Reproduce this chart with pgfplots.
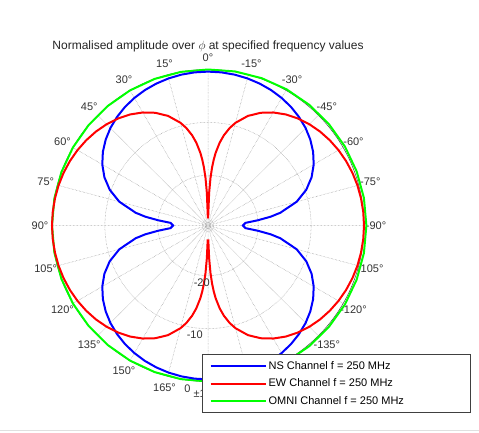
\documentclass[border=0pt]{standalone}
\usepackage{fontspec}
\setmainfont{Liberation Sans}
\usepackage{pgfplots}
\pgfplotsset{compat=1.18}
\usepgfplotslibrary{polar}
\usepackage{pgfplotstable}
\usetikzlibrary{calc}

\definecolor{nsblue}{RGB}{0,0,255}
\definecolor{ewred}{RGB}{255,0,0}
\definecolor{omnigreen}{RGB}{0,255,0}

% NS channel: phi (deg), normalised amplitude (dB)
\pgfplotstableread{
phi dB
0 -0.40
5 -0.43
10 -0.53
15 -0.70
20 -0.94
25 -1.25
30 -1.65
35 -2.13
40 -2.72
45 -3.41
50 -4.24
55 -5.23
60 -6.42
65 -7.88
70 -9.72
75 -12.14
80 -15.61
82 -17.53
84 -20.02
86 -22.40
90 -22.90
94 -22.40
96 -20.02
98 -17.53
100 -15.61
105 -12.14
110 -9.72
115 -7.88
120 -6.42
125 -5.23
130 -4.24
135 -3.41
140 -2.72
145 -2.13
150 -1.65
155 -1.25
160 -0.94
165 -0.70
170 -0.53
175 -0.43
180 -0.40
185 -0.43
190 -0.53
195 -0.70
200 -0.94
205 -1.25
210 -1.65
215 -2.13
220 -2.72
225 -3.41
230 -4.24
235 -5.23
240 -6.42
245 -7.88
250 -9.72
255 -12.14
260 -15.61
262 -17.53
264 -20.02
266 -22.40
270 -22.90
274 -22.40
276 -20.02
278 -17.53
280 -15.61
285 -12.14
290 -9.72
295 -7.88
300 -6.42
305 -5.23
310 -4.24
315 -3.41
320 -2.72
325 -2.13
330 -1.65
335 -1.25
340 -0.94
345 -0.70
350 -0.53
355 -0.43
360 -0.40
}\nstable

% EW channel, left lobe
\pgfplotstableread{
phi dB
1 -28.13
2 -23.32
3 -20.50
4 -18.50
5 -16.96
6 -15.69
8 -13.70
10 -12.17
12.5 -10.63
15 -9.39
20 -7.45
25 -5.98
30 -4.82
35 -3.86
40 -3.07
45 -2.41
50 -1.85
55 -1.39
60 -1.00
65 -0.68
70 -0.43
75 -0.24
80 -0.11
85 -0.03
90 0
95 -0.03
100 -0.11
105 -0.24
110 -0.43
115 -0.68
120 -1.00
125 -1.39
130 -1.85
135 -2.41
140 -3.07
145 -3.86
150 -4.82
155 -5.98
160 -7.45
165 -9.39
167.5 -10.63
170 -12.17
172 -13.70
174 -15.69
175 -16.96
176 -18.50
177 -20.50
178 -23.32
178.8 -26.85
}\ewlefttable

% EW channel, right lobe
\pgfplotstableread{
phi dB
181.2 -26.85
182 -23.32
183 -20.50
184 -18.50
185 -16.96
186 -15.69
188 -13.70
190 -12.17
192.5 -10.63
195 -9.39
200 -7.45
205 -5.98
210 -4.82
215 -3.86
220 -3.07
225 -2.41
230 -1.85
235 -1.39
240 -1.00
245 -0.68
250 -0.43
255 -0.24
260 -0.11
265 -0.03
270 0
275 -0.03
280 -0.11
285 -0.24
290 -0.43
295 -0.68
300 -1.00
305 -1.39
310 -1.85
315 -2.41
320 -3.07
325 -3.86
330 -4.82
335 -5.98
340 -7.45
345 -9.39
347.5 -10.63
350 -12.17
352 -13.70
354 -15.69
355 -16.96
356 -18.50
357 -20.50
358 -23.32
359 -28.13
}\ewrighttable

% OMNI channel
\pgfplotstableread{
phi dB
0 0
10 0
20 0
30 0
40 0
50 0
60 0
70 0
80 0
90 0
100 0
110 0
120 0
130 0
140 0
150 0
160 0
170 0
180 0
190 0.08
200 0.15
210 0.23
220 0.29
230 0.34
240 0.39
250 0.42
260 0.44
270 0.45
280 0.44
290 0.42
300 0.39
310 0.34
320 0.29
330 0.23
340 0.15
350 0.08
360 0
}\omnitable

\begin{document}
\begin{tikzpicture}
\useasboundingbox (0,0) rectangle (479pt,432pt);
\fill[white] (0,0) rectangle (479pt,432pt);
\draw[black!12, line width=1.2pt] (0,1.5pt) -- (479pt,1.5pt);

\node[anchor=base, font=\fontsize{12}{14}\selectfont, text=black!85] at (208pt,382pt)
  {Normalised amplitude over $\phi$ at specified frequency values};

\foreach \p/\l in {0/0,15/15,30/30,45/45,60/60,75/75,90/90,105/105,120/120,135/135,150/150,165/165,180/±180,195/-165,210/-150,225/-135,240/-120,255/-105,270/-90,285/-75,300/-60,315/-45,330/-30,345/-15}
  \node[font=\fontsize{11}{13}\selectfont, text=black!80, inner sep=0pt] at ($(208pt,206.5pt)+(90+\p:168pt)$) {\l°};

\begin{polaraxis}[
  at={(208pt,206.5pt)}, anchor=center,
  scale only axis, width=312pt, height=312pt,
  xmin=0, xmax=360, ymin=0, ymax=29.5,
  xtick={0,15,...,345},
  ytick={0.55,1.1,9.5,19.5},
  xticklabel={\relax}, yticklabel={\relax},
  xmajorgrids, ymajorgrids,
  major grid style={densely dotted, line width=0.5pt, black!45},
  major tick length=0pt,
  axis line style={black!75, line width=0.5pt},
  y axis line style={draw=none},
  clip=false,
  legend style={at={(0.4817,-0.101)}, anchor=south west, draw=black!75, line width=0.6pt,
    fill=white, font=\fontsize{11}{13}\selectfont, inner xsep=7pt, inner ysep=5pt,
    row sep=3.8pt, cells={anchor=west}},
  legend image code/.code={\draw[#1] (0pt,0pt) -- (55pt,0pt);},
]
\addlegendimage{nsblue, line width=2pt}
\addlegendentry{\makebox[193pt][l]{NS Channel f = 250 MHz}}
\addlegendimage{ewred, line width=2pt}
\addlegendentry{\makebox[193pt][l]{EW Channel f = 250 MHz}}
\addlegendimage{omnigreen, line width=2pt}
\addlegendentry{\makebox[193pt][l]{OMNI Channel f = 250 MHz}}

\addplot[omnigreen, line width=2pt, forget plot] table[x expr=\thisrow{phi}+90, y expr=\thisrow{dB}+29.5] {\omnitable};
\addplot[nsblue, line width=2pt, forget plot] table[x expr=\thisrow{phi}+90, y expr=\thisrow{dB}+29.5] {\nstable};
\addplot[ewred, line width=2pt, forget plot] table[x expr=\thisrow{phi}+90, y expr=\thisrow{dB}+29.5] {\ewlefttable};
\addplot[ewred, line width=2pt, forget plot] table[x expr=\thisrow{phi}+90, y expr=\thisrow{dB}+29.5] {\ewrighttable};
\end{polaraxis}

\node[font=\fontsize{11}{13}\selectfont, text=black!80] at (201.7pt,149pt) {-20};
\node[font=\fontsize{11}{13}\selectfont, text=black!80] at (194.7pt,97pt) {-10};
\node[font=\fontsize{11}{13}\selectfont, text=black!80] at (187.5pt,43.7pt) {0};
\end{tikzpicture}
\end{document}
